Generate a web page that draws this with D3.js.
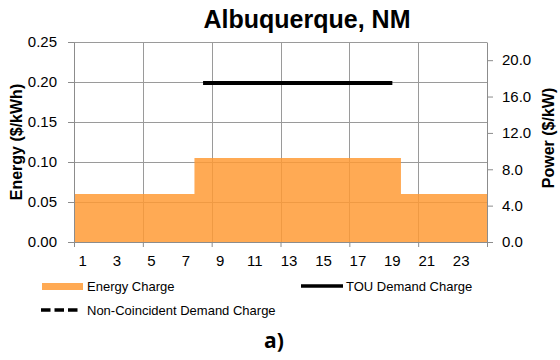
<!DOCTYPE html>
<html>
<head>
<meta charset="utf-8">
<script src="https://cdn.jsdelivr.net/npm/d3@7"></script>
<style>
  body { margin: 0; background: #fff; }
  svg { font-family: "Liberation Sans", Arial, sans-serif; }
</style>
</head>
<body>
<script>
// hourly tariff, Albuquerque NM
var hours = d3.range(1, 25);
var energyCharge = [0.06, 0.06, 0.06, 0.06, 0.06, 0.06, 0.06,
                    0.105, 0.105, 0.105, 0.105, 0.105, 0.105, 0.105, 0.105, 0.105, 0.105, 0.105, 0.105,
                    0.06, 0.06, 0.06, 0.06, 0.06];
var touDemand = [null, null, null, null, null, null, null,
                 17.5, 17.5, 17.5, 17.5, 17.5, 17.5, 17.5, 17.5, 17.5, 17.5, 17.5, 17.5,
                 null, null, null, null, null];
var ncDemand = []; // not drawn in this panel
var hourLabels = [1, 3, 5, 7, 9, 11, 13, 15, 17, 19, 21, 23];
var leftTicks = [0, 0.05, 0.10, 0.15, 0.20, 0.25];
var rightTicks = [0, 4, 8, 12, 16, 20];

var W = 560, H = 360;
var plotL = 74, plotR = 487, plotT = 42, plotB = 242;

var svg = d3.select("body").append("svg")
    .attr("width", W)
    .attr("height", H);

var x = d3.scaleBand().domain(hours).range([plotL, plotR]).padding(0);
var xb = d3.scaleLinear().domain([0, 24]).range([plotL, plotR]);
var yL = d3.scaleLinear().domain([0, 0.25]).range([plotB, plotT]);
var yR = d3.scaleLinear().domain([0, 22]).range([plotB, plotT]);

// grid
svg.append("g").selectAll("line")
    .data(leftTicks.slice(1))
  .enter().append("line")
    .attr("x1", plotL).attr("x2", plotR)
    .attr("y1", function(d) { return Math.round(yL(d)) + 0.5; })
    .attr("y2", function(d) { return Math.round(yL(d)) + 0.5; })
    .attr("stroke", "#9a9a9a").attr("stroke-width", 1);

svg.append("g").selectAll("line")
    .data([4, 8, 12, 16, 20])
  .enter().append("line")
    .attr("x1", function(d) { return Math.round(xb(d)) + 0.5; })
    .attr("x2", function(d) { return Math.round(xb(d)) + 0.5; })
    .attr("y1", plotT).attr("y2", plotB)
    .attr("stroke", "#9a9a9a").attr("stroke-width", 1);

// energy charge as step area
var stepPts = hours.map(function(h, i) { return [x(h), energyCharge[i]]; });
stepPts.push([x(24) + x.bandwidth(), energyCharge[23]]);

var area = d3.area()
    .x(function(d) { return d[0]; })
    .y0(plotB)
    .y1(function(d) { return yL(d[1]); })
    .curve(d3.curveStepAfter);

svg.append("path")
    .datum(stepPts)
    .attr("d", area)
    .attr("fill", "#ff9a33")
    .attr("fill-opacity", 0.84);

// demand lines
var line = d3.line()
    .defined(function(d) { return d != null; })
    .x(function(d, i) { return x(hours[i]) + x.bandwidth() / 2; })
    .y(function(d) { return yR(d); });

svg.append("path")
    .datum(touDemand)
    .attr("d", line)
    .attr("fill", "none")
    .attr("stroke", "#000")
    .attr("stroke-width", 4);

svg.append("path")
    .datum(ncDemand)
    .attr("d", line)
    .attr("fill", "none")
    .attr("stroke", "#000")
    .attr("stroke-width", 4)
    .attr("stroke-dasharray", "10,4");

// axes
function styleAxis(g) {
  g.selectAll(".domain").attr("stroke", "#8c8c8c");
  g.selectAll(".tick line").attr("stroke", "#8c8c8c");
  g.selectAll("text").attr("fill", "#000").style("font-size", "15px")
    .style("font-family", "'Liberation Sans', Arial, sans-serif");
}

svg.append("g")
    .attr("transform", "translate(" + plotL + ",0)")
    .call(d3.axisLeft(yL).tickValues(leftTicks).tickFormat(d3.format(".2f"))
      .tickSize(6).tickSizeOuter(0).tickPadding(11))
    .call(styleAxis);

svg.append("g")
    .attr("transform", "translate(" + plotR + ",0)")
    .call(d3.axisRight(yR).tickValues(rightTicks).tickFormat(d3.format(".1f"))
      .tickSize(6).tickSizeOuter(0).tickPadding(9))
    .call(styleAxis);

svg.append("g")
    .attr("transform", "translate(0," + plotB + ")")
    .call(d3.axisBottom(xb).tickValues([0, 4, 8, 12, 16, 20, 24]).tickFormat("")
      .tickSize(5).tickSizeOuter(0))
    .call(styleAxis);

svg.append("g")
    .attr("transform", "translate(0," + plotB + ")")
    .call(d3.axisBottom(x).tickValues(hourLabels).tickSize(0).tickPadding(13))
    .call(styleAxis)
    .call(function(g) { g.select(".domain").remove(); });

// titles
svg.append("text")
    .attr("x", 307).attr("y", 28)
    .attr("text-anchor", "middle")
    .style("font-size", "25px").style("font-weight", "bold")
    .text("Albuquerque, NM");

svg.append("text")
    .attr("transform", "translate(22,142) rotate(-90)")
    .attr("text-anchor", "middle")
    .style("font-size", "16px").style("font-weight", "bold")
    .text("Energy ($/kWh)");

svg.append("text")
    .attr("transform", "translate(554,138) rotate(-90)")
    .attr("text-anchor", "middle")
    .style("font-size", "16px").style("font-weight", "bold")
    .text("Power ($/kW)");

// legend
var leg = svg.append("g").style("font-size", "13px");

leg.append("rect")
    .attr("x", 42).attr("y", 283).attr("width", 41).attr("height", 7)
    .attr("fill", "#ff9a33").attr("fill-opacity", 0.84);
leg.append("text").attr("x", 87).attr("y", 286).attr("dy", "0.35em").text("Energy Charge");

leg.append("line")
    .attr("x1", 301).attr("x2", 343).attr("y1", 286).attr("y2", 286)
    .attr("stroke", "#000").attr("stroke-width", 3.5);
leg.append("text").attr("x", 346).attr("y", 286).attr("dy", "0.35em").text("TOU Demand Charge");

leg.append("line")
    .attr("x1", 41).attr("x2", 78).attr("y1", 310).attr("y2", 310)
    .attr("stroke", "#000").attr("stroke-width", 3.5)
    .attr("stroke-dasharray", "9.5,4");
leg.append("text").attr("x", 87).attr("y", 310).attr("dy", "0.35em").text("Non-Coincident Demand Charge");

svg.append("text")
    .attr("x", 274).attr("y", 348)
    .attr("text-anchor", "middle")
    .style("font-size", "21px").style("font-weight", "bold")
    .style("font-family", "'Open Sans', 'Liberation Sans', sans-serif")
    .text("a)");
</script>
</body>
</html>
